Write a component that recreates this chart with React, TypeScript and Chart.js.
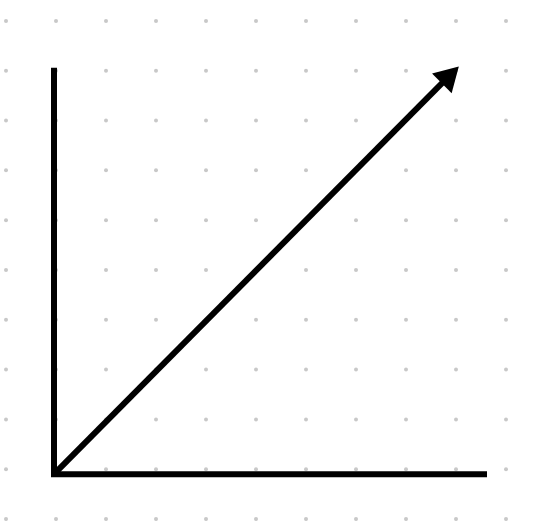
import React, { useEffect, useRef } from "react";
import { Chart, registerables } from "chart.js";

Chart.register(...registerables);

// Dot grid (grid units; one unit = one dot spacing)
const gridCols: number[] = [0, 1, 2, 3, 4, 5, 6, 7, 8, 9, 10];
const gridRows: number[] = [0, 1, 2, 3, 4, 5, 6, 7, 8, 9, 10];

// Axes (polyline: top of y-axis -> origin -> end of x-axis)
const axisX: number[] = [0.96, 0.96, 9.62];
const axisY: number[] = [9.06, 0.9, 0.9];

// Vector from origin to arrowhead
const vectorX: number[] = [0.96, 8.83];
const vectorY: number[] = [0.9, 8.86];

export default function App() {
  const ref = useRef<HTMLCanvasElement | null>(null);

  useEffect(() => {
    if (!ref.current) return;
    const dots: { x: number; y: number }[] = [];
    gridRows.forEach((r) => gridCols.forEach((c) => dots.push({ x: c, y: r })));
    const axes = axisX.map((x, i) => ({ x, y: axisY[i] }));
    const vec = vectorX.map((x, i) => ({ x, y: vectorY[i] }));
    const head = [vec[vec.length - 1]];

    const chart = new Chart(ref.current, {
      type: "scatter",
      data: {
        datasets: [
          {
            data: head,
            pointStyle: "triangle",
            rotation: 45,
            pointRadius: 16,
            pointHoverRadius: 16,
            backgroundColor: "#000",
            borderColor: "#000",
            borderWidth: 0,
            showLine: false,
            clip: false,
            order: 0,
          } as any,
          {
            data: vec,
            showLine: true,
            borderColor: "#000",
            borderWidth: 6,
            pointRadius: 0,
            borderCapStyle: "butt",
            clip: false,
            order: 1,
          } as any,
          {
            data: axes,
            showLine: true,
            borderColor: "#000",
            borderWidth: 6,
            pointRadius: 0,
            borderCapStyle: "butt",
            borderJoinStyle: "miter",
            clip: false,
            order: 2,
          } as any,
          {
            data: dots,
            showLine: false,
            pointRadius: 2,
            pointHoverRadius: 2,
            backgroundColor: "#c8c8c8",
            borderWidth: 0,
            clip: false,
            order: 3,
          } as any,
        ],
      },
      options: {
        animation: false,
        responsive: false,
        devicePixelRatio: 1,
        events: [],
        layout: { padding: 0, autoPadding: false },
        plugins: { legend: { display: false }, tooltip: { enabled: false } },
        scales: {
          x: { type: "linear", min: -0.12, max: 10.78, display: false },
          y: { type: "linear", min: -0.04, max: 10.42, display: false },
        },
      },
    });
    return () => chart.destroy();
  }, []);

  return (
    <div style={{ position: "fixed", left: 0, top: 0, width: 545, height: 521, background: "#fff" }}>
      <canvas ref={ref} width={545} height={521} style={{ display: "block" }} />
    </div>
  );
}
